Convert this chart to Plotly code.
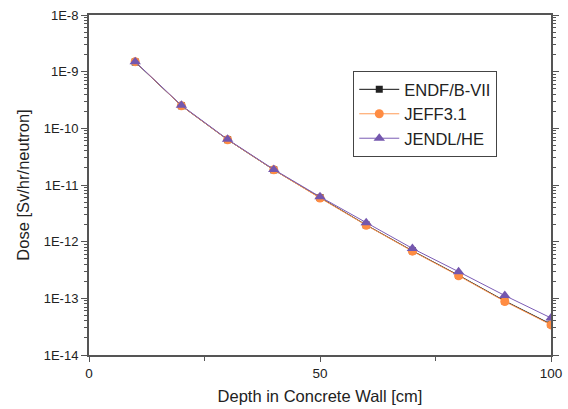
import plotly.graph_objects as go

depth = [10, 20, 30, 40, 50, 60, 70, 80, 90, 100]
endf = [1.48e-9, 2.5e-10, 6.3e-11, 1.85e-11, 6.0e-12, 1.97e-12, 6.9e-13, 2.55e-13, 9.0e-14, 3.5e-14]
jeff = [1.5e-9, 2.5e-10, 6.3e-11, 1.85e-11, 5.9e-12, 1.95e-12, 6.8e-13, 2.5e-13, 8.8e-14, 3.4e-14]
jendl = [1.5e-9, 2.55e-10, 6.4e-11, 1.88e-11, 6.2e-12, 2.16e-12, 7.6e-13, 2.95e-13, 1.12e-13, 4.5e-14]

ytickvals = [1e-14, 1e-13, 1e-12, 1e-11, 1e-10, 1e-9, 1e-8]
yticktext = ["1E-14", "1E-13", "1E-12", "1E-11", "1E-10", "1E-9", "1E-8"]

font = "Liberation Sans, Arial, sans-serif"

fig = go.Figure()
fig.add_trace(go.Scatter(x=depth, y=endf, name="ENDF/B-VII", mode="lines+markers",
                         line=dict(color="#111111", width=1),
                         marker=dict(symbol="square", size=7, color="#222222")))
fig.add_trace(go.Scatter(x=depth, y=jeff, name="JEFF3.1", mode="lines+markers",
                         line=dict(color="#FF9A55", width=1),
                         marker=dict(symbol="circle", size=9, color="#FF8C42")))
fig.add_trace(go.Scatter(x=depth, y=jendl, name="JENDL/HE", mode="lines+markers",
                         line=dict(color="#7B5CB5", width=1),
                         marker=dict(symbol="triangle-up", size=10, color="#7457AE")))

fig.update_layout(
    width=568, height=409,
    margin=dict(l=89, r=17, t=15, b=54),
    paper_bgcolor="white", plot_bgcolor="white",
    font=dict(family=font, size=13, color="#222222"),
    showlegend=True,
    legend=dict(x=0.572, y=0.835, xanchor="left", yanchor="top",
                bordercolor="#444444", borderwidth=1, bgcolor="white",
                font=dict(size=16.5, color="#222222"), tracegroupgap=0,
                itemwidth=40),
)
fig.update_xaxes(
    range=[0, 100], tickvals=[0, 50, 100], ticks="outside", ticklen=5,
    showline=True, linecolor="#555555", linewidth=2, mirror=True,
    showgrid=False, zeroline=False, automargin=False,
    minor=dict(tickvals=[25, 75], ticks="outside", ticklen=4, tickcolor="#555555"),
    title=dict(text="Depth in Concrete Wall [cm]", font=dict(size=16.5, color="#222222"), standoff=10),
    tickfont=dict(size=13.5, color="#222222"), tickcolor="#555555",
)
fig.update_yaxes(
    type="log", range=[-14, -8], tickvals=ytickvals, ticktext=yticktext,
    ticks="outside", ticklen=6, tickcolor="#555555",
    showline=True, linecolor="#555555", linewidth=2, mirror="ticks",
    showgrid=False, zeroline=False, automargin=False,
    minor=dict(ticks="outside", ticklen=3, tickcolor="#555555", dtick="D1"),
    title=dict(text="Dose [Sv/hr/neutron]", font=dict(size=16.5, color="#222222"), standoff=10),
    tickfont=dict(size=13, color="#222222"),
)

fig.write_html("out.html")
